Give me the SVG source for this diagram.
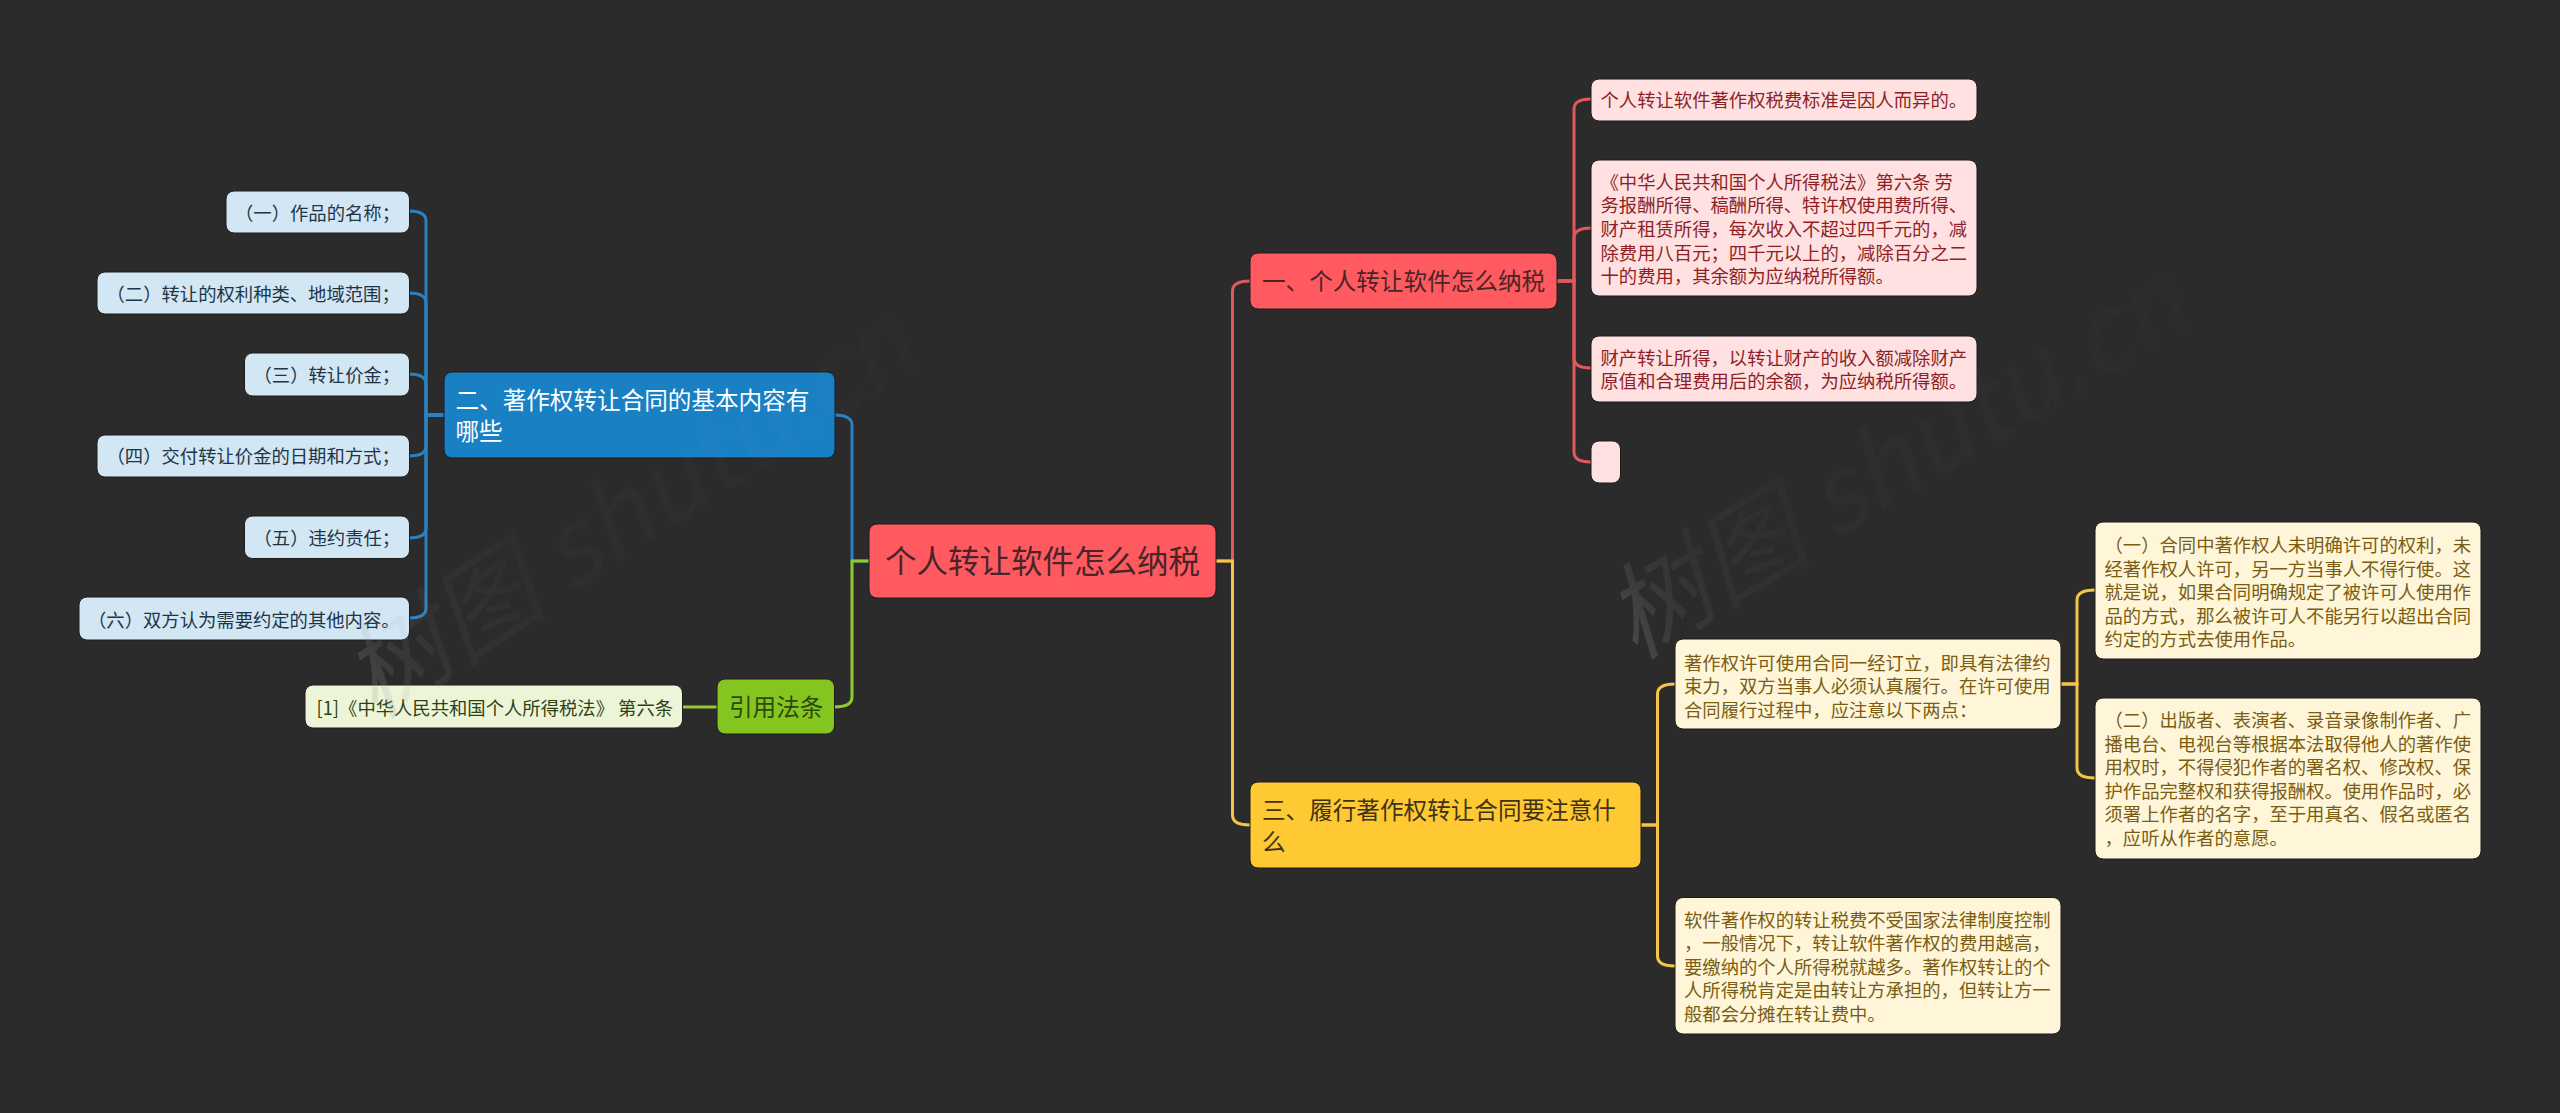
<svg xmlns="http://www.w3.org/2000/svg" width="2560" height="1113" viewBox="0 0 2560 1113" lang="zh-CN">
<style>
text{font-family:"Noto Sans CJK SC","Noto Sans",sans-serif;font-weight:400}
rect{rx:8px;ry:8px;stroke:#1c1c1c;stroke-width:1}
.c{fill:none;stroke-width:3}
.cr{stroke:#e0595f}.cy{stroke:#f3c647}.cb{stroke:#2a82c0}.cg{stroke:#8fcb2d}
.s{font-size:18.33px}
.m{font-size:23.6px}
.lr rect{fill:#ffe1e2}.lr text{fill:#8e1f25}
.ly rect{fill:#fff5d9}.ly text{fill:#7a5d12}
.lb rect{fill:#d2e6f4}.lb text{fill:#1d3546}
.lg rect{fill:#edf5d8}.lg text{fill:#2f4214}
.wm{font-size:104px;font-style:italic;fill:url(#wg)}
</style>
<defs>
<linearGradient id="wg" x1="0" y1="0" x2="1" y2="0">
<stop offset="0" stop-color="#a0a0a0" stop-opacity=".28"/>
<stop offset=".07" stop-color="#a0a0a0" stop-opacity=".12"/>
<stop offset=".16" stop-color="#a0a0a0" stop-opacity=".06"/>
<stop offset=".32" stop-color="#a0a0a0" stop-opacity=".03"/>
<stop offset="1" stop-color="#a0a0a0" stop-opacity=".015"/>
</linearGradient>
</defs>
<rect width="2560" height="1113" style="fill:#2b2b2b;stroke:none;rx:0;ry:0"/>
<g id="connectors">
<path class="c cb" d="M869 561H852V425Q852 415 834 415"/>
<path class="c cg" d="M869 561H852V697Q852 707 834 707"/>
<path class="c cg" d="M717 707H682"/>
<path class="c cb" d="M444 415H426V221Q426 211 409 211"/>
<path class="c cb" d="M444 415H426V303Q426 293 409 293"/>
<path class="c cb" d="M444 415H426V384Q426 374 409 374"/>
<path class="c cb" d="M444 415H426V446Q426 456 409 456"/>
<path class="c cb" d="M444 415H426V528Q426 538 409 538"/>
<path class="c cb" d="M444 415H426V608Q426 618 409 618"/>
<path class="c cr" d="M1216 561H1232.500V291Q1232.500 281 1250 281"/>
<path class="c cy" d="M1216 561H1232.500V815Q1232.500 825 1250 825"/>
<path class="c cr" d="M1556 281H1574V109Q1574 99 1591 99"/>
<path class="c cr" d="M1556 281H1574V238Q1574 228 1591 228"/>
<path class="c cr" d="M1556 281H1574V358Q1574 368 1591 368"/>
<path class="c cr" d="M1556 281H1574V452Q1574 462 1591 462"/>
<path class="c cy" d="M1640 825H1657.500V694Q1657.500 684 1675 684"/>
<path class="c cy" d="M1640 825H1657.500V956Q1657.500 966 1675 966"/>
<path class="c cy" d="M2059 684H2077V600Q2077 590 2095 590"/>
<path class="c cy" d="M2059 684H2077V768Q2077 778 2095 778"/>
</g>
<g id="root"><rect x="869" y="524" width="347" height="74" style="fill:#ff5a60"/><text x="885" y="573" style="font-size:31.5px;fill:#4a2428">个人转让软件怎么纳税</text></g>
<g id="n1"><rect x="1250" y="253" width="307" height="56" style="fill:#ff5a60"/><text class="m" x="1262" y="290" style="fill:#4a2428">一、个人转让软件怎么纳税</text></g>
<g id="n2"><rect x="444" y="372" width="391" height="86" style="fill:#1a80c4"/><text class="m" style="fill:#fff"><tspan x="455.500" y="409">二、著作权转让合同的基本内容有</tspan><tspan x="455.500" y="440">哪些</tspan></text></g>
<g id="n3"><rect x="1250" y="782" width="391" height="86" style="fill:#ffc933"/><text class="m" style="fill:#3f3315"><tspan x="1262" y="819">三、履行著作权转让合同要注意什</tspan><tspan x="1262" y="851">么</tspan></text></g>
<g id="n4"><rect x="717" y="679" width="117.500" height="55" style="fill:#84c520"/><text class="m" x="729" y="716" style="fill:#2b4a0a">引用法条</text></g>
<g id="r1" class="lr"><rect x="1591" y="79" width="386" height="42"/><text class="s" x="1600.500" y="107">个人转让软件著作权税费标准是因人而异的。</text></g>
<g id="r2" class="lr"><rect x="1591" y="160" width="386" height="136"/><text class="s"><tspan x="1600.500" y="188.700">《中华人民共和国个人所得税法》第六条 劳</tspan><tspan x="1600.500" y="212.300">务报酬所得、稿酬所得、特许权使用费所得、</tspan><tspan x="1600.500" y="235.900">财产租赁所得，每次收入不超过四千元的，减</tspan><tspan x="1600.500" y="259.500">除费用八百元；四千元以上的，减除百分之二</tspan><tspan x="1600.500" y="283.100">十的费用，其余额为应纳税所得额。</tspan></text></g>
<g id="r3" class="lr"><rect x="1591" y="336" width="386" height="66"/><text class="s"><tspan x="1600.500" y="364.700">财产转让所得，以转让财产的收入额减除财产</tspan><tspan x="1600.500" y="388.300">原值和合理费用后的余额，为应纳税所得额。</tspan></text></g>
<g id="r4" class="lr"><rect x="1591" y="441" width="29.500" height="42"/></g>
<g id="y1" class="ly"><rect x="1675" y="639" width="386" height="90"/><text class="s"><tspan x="1684" y="669.500">著作权许可使用合同一经订立，即具有法律约</tspan><tspan x="1684" y="693.100">束力，双方当事人必须认真履行。在许可使用</tspan><tspan x="1684" y="716.700">合同履行过程中，应注意以下两点：</tspan></text></g>
<g id="y2" class="ly"><rect x="1675" y="897.500" width="386" height="136.500"/><text class="s"><tspan x="1684" y="926.600">软件著作权的转让税费不受国家法律制度控制</tspan><tspan x="1684" y="950.200">，一般情况下，转让软件著作权的费用越高，</tspan><tspan x="1684" y="973.800">要缴纳的个人所得税就越多。著作权转让的个</tspan><tspan x="1684" y="997.400">人所得税肯定是由转让方承担的，但转让方一</tspan><tspan x="1684" y="1021">般都会分摊在转让费中。</tspan></text></g>
<g id="y3" class="ly"><rect x="2095" y="522" width="386" height="137"/><text class="s"><tspan x="2104.500" y="552">（一）合同中著作权人未明确许可的权利，未</tspan><tspan x="2104.500" y="575.600">经著作权人许可，另一方当事人不得行使。这</tspan><tspan x="2104.500" y="599.200">就是说，如果合同明确规定了被许可人使用作</tspan><tspan x="2104.500" y="622.800">品的方式，那么被许可人不能另行以超出合同</tspan><tspan x="2104.500" y="646.400">约定的方式去使用作品。</tspan></text></g>
<g id="y4" class="ly"><rect x="2095" y="698" width="386" height="161"/><text class="s"><tspan x="2104.500" y="727">（二）出版者、表演者、录音录像制作者、广</tspan><tspan x="2104.500" y="750.600">播电台、电视台等根据本法取得他人的著作使</tspan><tspan x="2104.500" y="774.200">用权时，不得侵犯作者的署名权、修改权、保</tspan><tspan x="2104.500" y="797.800">护作品完整权和获得报酬权。使用作品时，必</tspan><tspan x="2104.500" y="821.400">须署上作者的名字，至于用真名、假名或匿名</tspan><tspan x="2104.500" y="845">，应听从作者的意愿。</tspan></text></g>
<g id="b1" class="lb"><rect x="226" y="191" width="183.500" height="42"/><text class="s" x="235" y="219.700">（一）作品的名称；</text></g>
<g id="b2" class="lb"><rect x="97" y="272" width="312.500" height="42"/><text class="s" x="106.500" y="301">（二）转让的权利种类、地域范围；</text></g>
<g id="b3" class="lb"><rect x="244.500" y="353" width="165" height="43"/><text class="s" x="253.500" y="382">（三）转让价金；</text></g>
<g id="b4" class="lb"><rect x="97" y="435" width="312.500" height="42"/><text class="s" x="106.500" y="463">（四）交付转让价金的日期和方式；</text></g>
<g id="b5" class="lb"><rect x="244.500" y="516" width="165" height="42.500"/><text class="s" x="253.500" y="544.700">（五）违约责任；</text></g>
<g id="b6" class="lb"><rect x="79" y="597" width="330.500" height="43"/><text class="s" x="88" y="627">（六）双方认为需要约定的其他内容。</text></g>
<g id="g1" class="lg"><rect x="305" y="685" width="377.500" height="43"/><text class="s" x="316.500" y="715">[1]《中华人民共和国个人所得税法》 第六条</text></g>
<g id="watermark">
<text class="wm" transform="translate(375 720) rotate(-33)">树图 shutu.cn</text>
<text class="wm" transform="translate(1635 660) rotate(-31)">树图 shutu.cn</text>
</g>
</svg>
